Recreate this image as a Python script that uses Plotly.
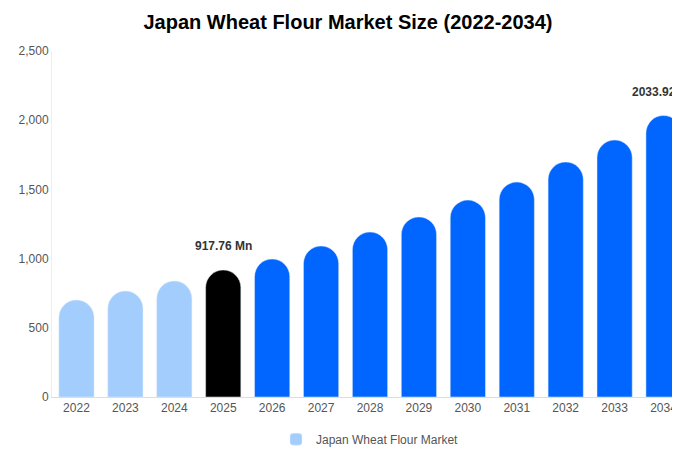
import plotly.graph_objects as go

years = ["2022","2023","2024","2025","2026","2027","2028","2029","2030","2031","2032","2033","2034"]
values = [701, 766, 838, 917.76, 997, 1091, 1192, 1301, 1423, 1553, 1698, 1857, 2033.92]
hist_n = 3
base_idx = 3
labels = {3: "917.76 Mn", 12: "2033.92 Mn"}

light, black, blue = "#a3cdfd", "#000000", "#0066ff"

fig = go.Figure()
groups = [
    (years[:hist_n], values[:hist_n], light, True),
    ([years[base_idx]], [values[base_idx]], black, False),
    (years[base_idx+1:], values[base_idx+1:], blue, False),
]
for x, y, c, sl in groups:
    fig.add_trace(go.Bar(x=x, y=y, marker=dict(color=c, cornerradius="50%"),
                         name="Japan Wheat Flour Market", showlegend=sl, width=0.72))
for i, t in labels.items():
    fig.add_annotation(x=i, y=values[i], xref="x", yref="y", text="<b>%s</b>" % t,
                       showarrow=False, yshift=24, font=dict(size=12, color="#333"))

fig.update_layout(
    width=680, height=450, barmode="overlay",
    title=dict(text="<b>Japan Wheat Flour Market Size (2022-2034)</b>", x=0.5, y=0.985,
               yanchor="top",
               font=dict(size=20, color="#000", family="Liberation Sans, Arial")),
    font=dict(family="Liberation Sans, Arial", size=12, color="#555"),
    margin=dict(l=44, r=0, t=43, b=61),
    plot_bgcolor="white", paper_bgcolor="white",
    xaxis=dict(type="category", categoryorder="array", categoryarray=years, showline=True,
               linecolor="#ddd", ticks="", range=[-0.5, 12.5], automargin=False),
    yaxis=dict(range=[0, 2500], dtick=500, tickformat=",", showgrid=False, showline=True,
               linecolor="#eee", ticks="", zeroline=False, automargin=False),
    legend=dict(orientation="h", x=0.5, xanchor="center", y=-0.08, yanchor="top",
                font=dict(size=12, color="#555")),
)
fig.write_html("out.html")
